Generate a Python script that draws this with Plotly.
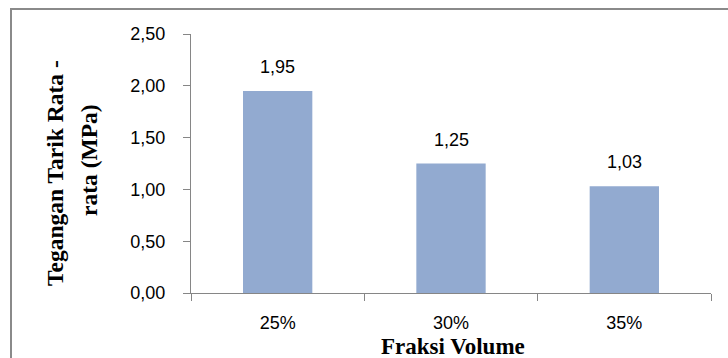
import plotly.graph_objects as go

# Average tensile stress per fibre volume fraction
categories = ["25%", "30%", "35%"]
values = [1.95, 1.25, 1.03]
value_labels = ["1,95", "1,25", "1,03"]
y_tickvals = [0, 0.5, 1.0, 1.5, 2.0, 2.5]
y_ticktext = ["0,00", "0,50", "1,00", "1,50", "2,00", "2,50"]

W, H = 728, 358
L, R, T, B = 191, 17, 34, 65
pw, ph = W - L - R, H - T - B


def px_x(x):
    return (x - L) / pw


def px_y(y):
    return (H - B - y) / ph


bar_color = "#92AAD0"
axis_color = "#868686"
tick_font = dict(family="Liberation Sans, Arial, sans-serif", size=18, color="#000000")
xtitle_font = dict(family="Liberation Serif, Times New Roman, serif", size=23, color="#000000")
ytitle_font = dict(family="Liberation Serif, Times New Roman, serif", size=23.5, color="#000000")

fig = go.Figure(
    go.Bar(
        x=categories,
        y=values,
        marker=dict(color=bar_color, line=dict(width=0)),
        width=0.4,
        hoverinfo="skip",
    )
)

# value labels above each bar
for c, v, t in zip(categories, values, value_labels):
    fig.add_annotation(
        x=c, y=v, text=t, showarrow=False, yanchor="bottom",
        yshift=12, font=tick_font,
    )

# axis titles
fig.add_annotation(
    x=px_x(453), y=px_y(346), xref="paper", yref="paper", text="<b>Fraksi Volume</b>",
    showarrow=False, xanchor="center", yanchor="middle", font=xtitle_font,
)
fig.add_annotation(
    x=px_x(55), y=px_y(173), xref="paper", yref="paper", text="<b>Tegangan Tarik Rata -</b>",
    showarrow=False, textangle=-90, xanchor="center", yanchor="middle", font=ytitle_font,
)
fig.add_annotation(
    x=px_x(89), y=px_y(160), xref="paper", yref="paper", text="<b>rata (MPa)</b>",
    showarrow=False, textangle=-90, xanchor="center", yanchor="middle", font=ytitle_font,
)

# chart frame (top and left edges)
frame = dict(color="#8A8A8A", width=2)
fig.add_shape(type="line", xref="paper", yref="paper",
              x0=px_x(10), x1=px_x(728), y0=px_y(9), y1=px_y(9), line=frame)
fig.add_shape(type="line", xref="paper", yref="paper",
              x0=px_x(11), x1=px_x(11), y0=px_y(8), y1=px_y(358), line=frame)

fig.update_layout(
    width=W, height=H,
    margin=dict(l=L, r=R, t=T, b=B),
    paper_bgcolor="white", plot_bgcolor="white",
    showlegend=False,
    bargap=0.6,
    xaxis=dict(
        type="category", range=[-0.5, 2.5],
        showline=True, linecolor=axis_color, linewidth=1,
        ticks="outside", tickson="boundaries", ticklen=7, tickcolor=axis_color,
        tickfont=tick_font, showgrid=False, zeroline=False,
        ticklabelstandoff=13,
    ),
    yaxis=dict(
        range=[0, 2.5], tickvals=y_tickvals, ticktext=y_ticktext,
        showline=True, linecolor=axis_color, linewidth=1,
        ticks="outside", ticklen=7, tickcolor=axis_color,
        tickfont=tick_font, showgrid=False, zeroline=False,
        ticklabelstandoff=14,
    ),
)

fig.write_html("out.html")
